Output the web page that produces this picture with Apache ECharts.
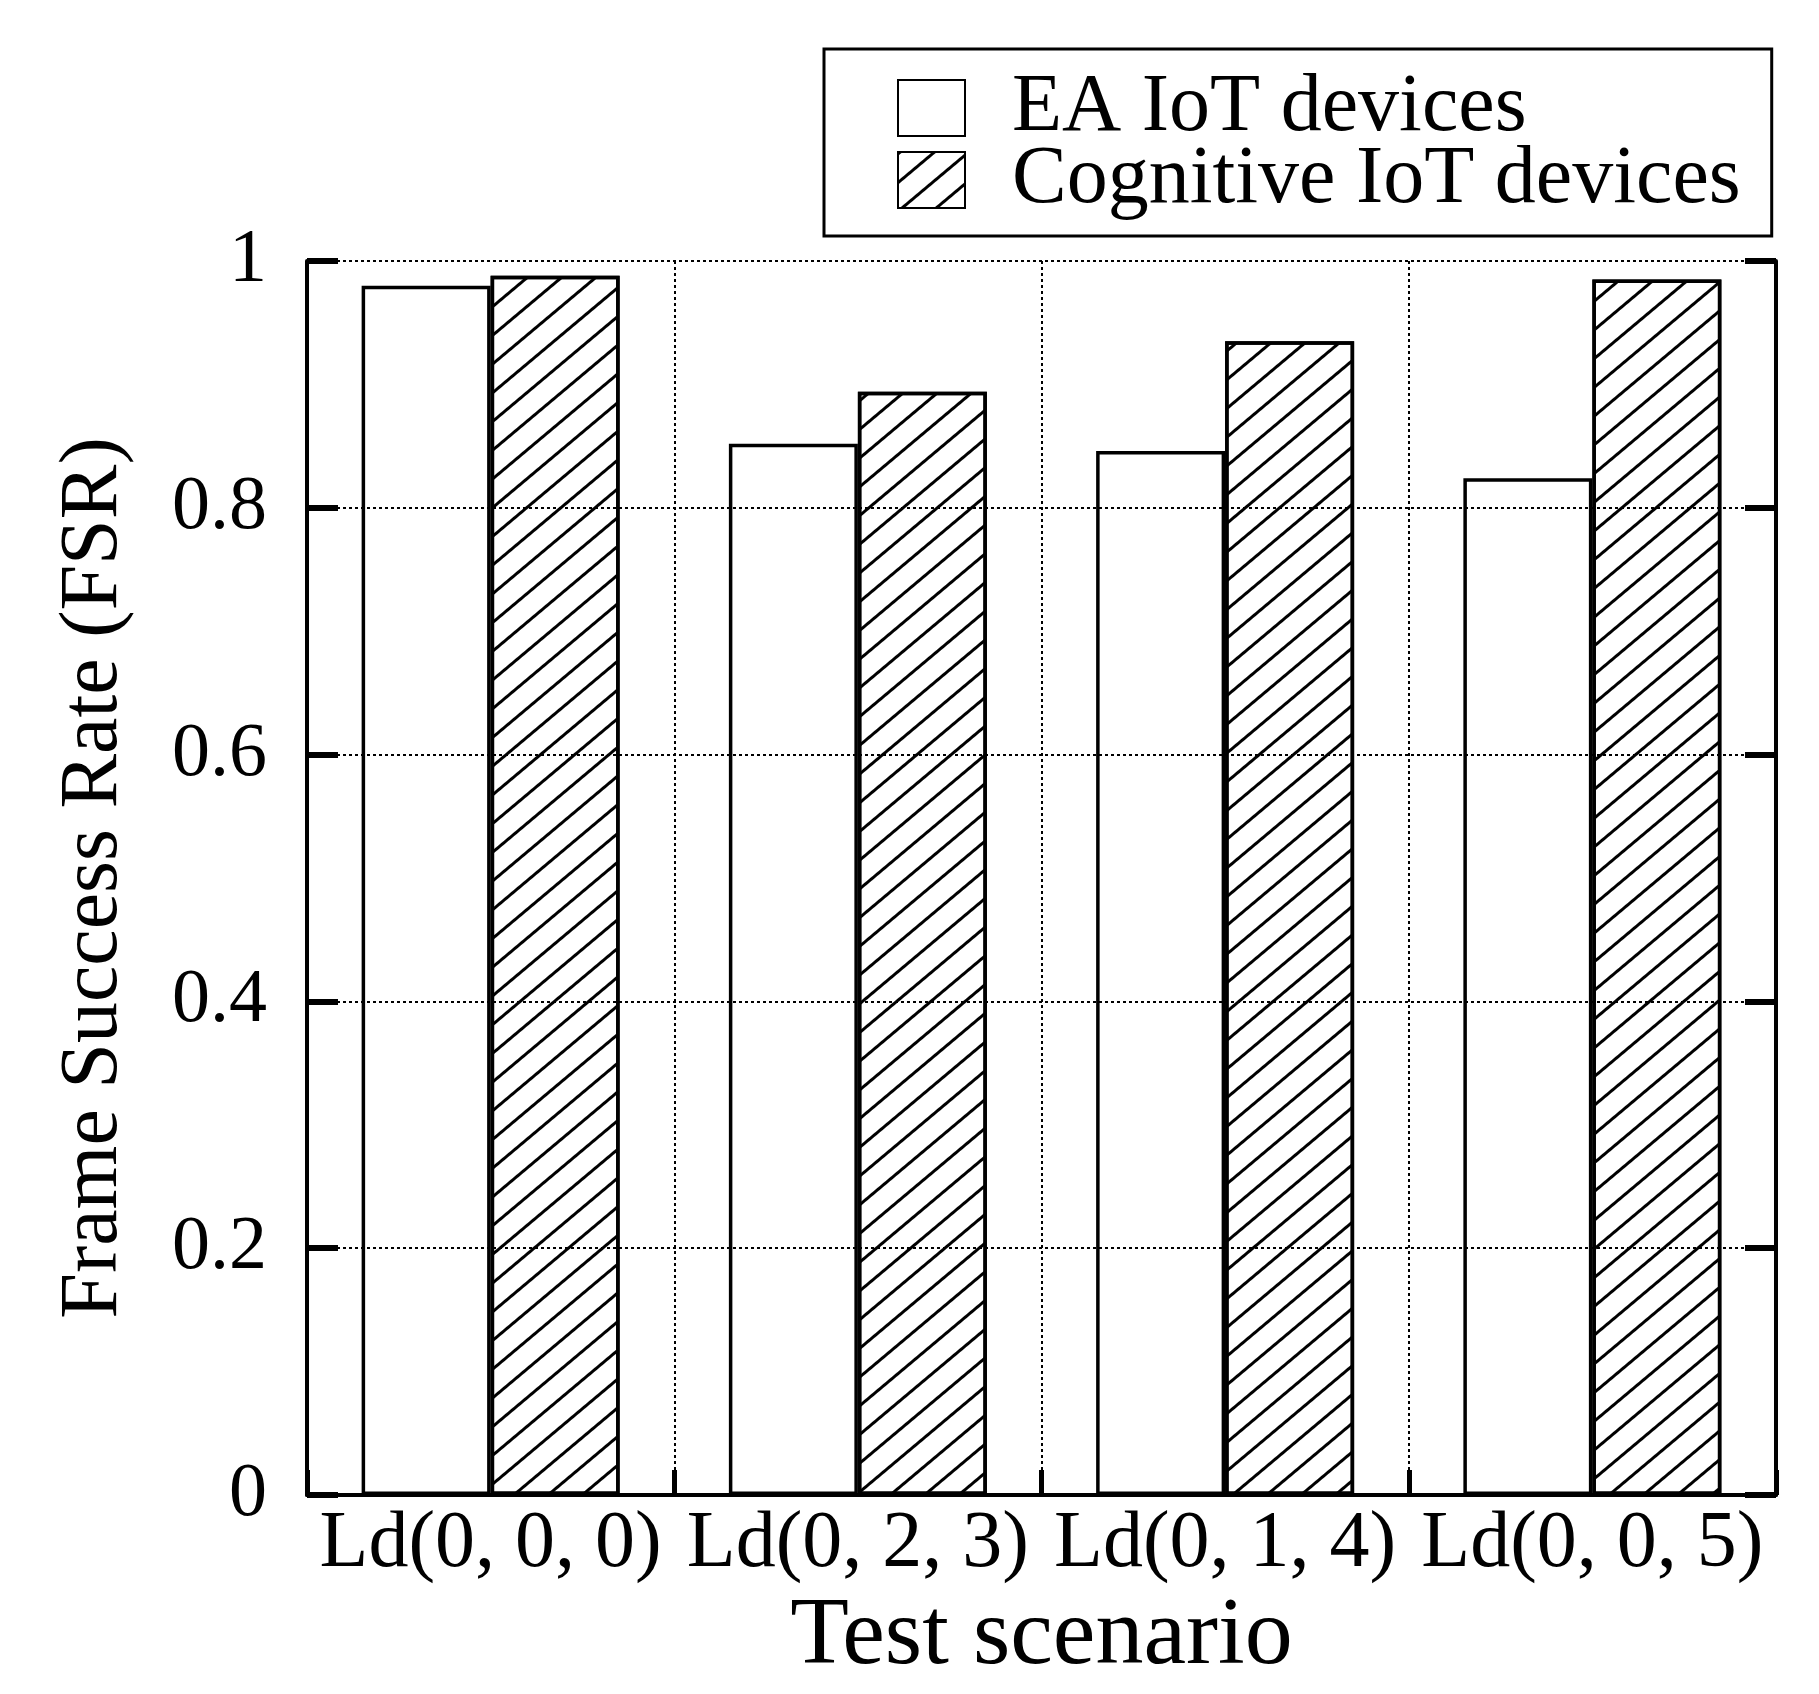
<!DOCTYPE html>
<html>
<head>
<meta charset="utf-8">
<script src="https://cdn.jsdelivr.net/npm/echarts@6/dist/echarts.min.js"></script>
<style>
html,body{margin:0;padding:0;background:#fff;}
#chart{width:1819px;height:1694px;}
</style>
</head>
<body>
<div id="chart"></div>
<script>
var categories = ['Ld(0, 0, 0)', 'Ld(0, 2, 3)', 'Ld(0, 1, 4)', 'Ld(0, 0, 5)'];
var eaValues = [0.980, 0.852, 0.846, 0.824];
var cognitiveValues = [0.988, 0.894, 0.935, 0.985];
var seriesNames = ['EA IoT devices', 'Cognitive IoT devices'];
var yTicks = { min: 0, max: 1, interval: 0.2 };
var axisTitles = { x: 'Test scenario', y: 'Frame Success Rate (FSR)' };

var FONT = "'Liberation Serif', 'Times New Roman', serif";
var chart = echarts.init(document.getElementById('chart'), null, { renderer: 'canvas' });

var hatch = {
  symbol: 'rect',
  color: '#000',
  dashArrayX: [1, 0],
  dashArrayY: [2.5, 18.5],
  rotation: -40 * Math.PI / 180
};

var option = {
  backgroundColor: '#fff',
  animation: false,
  grid: { left: 307, right: 43, top: 261, bottom: 199, containLabel: false },
  legend: {
    orient: 'vertical',
    left: 824,
    top: 49,
    padding: [18, 31, 15, 73],
    borderColor: '#000',
    borderWidth: 3,
    itemWidth: 67,
    itemHeight: 56,
    itemGap: -10,
    icon: 'rect',
    textStyle: {
      fontFamily: FONT,
      fontSize: 82,
      color: '#000',
      padding: [0, 0, 0, 42]
    },
    data: seriesNames
  },
  xAxis: {
    type: 'category',
    data: categories,
    boundaryGap: true,
    name: axisTitles.x,
    nameLocation: 'middle',
    nameGap: 75,
    nameTextStyle: { fontFamily: FONT, fontSize: 96, color: '#000' },
    axisLine: { show: true, onZero: false, lineStyle: { color: '#000', width: 4 } },
    axisTick: { show: true, inside: true, length: 25, lineStyle: { color: '#000', width: 5 } },
    axisLabel: { interval: 0, margin: 10, fontFamily: FONT, fontSize: 80, color: '#000' },
    splitLine: { show: true, interval: 0, lineStyle: { color: '#000', width: 2, type: [3, 3] } },
    z: 10
  },
  yAxis: [
    {
      type: 'value',
      position: 'left',
      min: yTicks.min,
      max: yTicks.max,
      interval: yTicks.interval,
      name: axisTitles.y,
      nameLocation: 'middle',
      nameGap: 172,
      nameTextStyle: { fontFamily: FONT, fontSize: 82, color: '#000' },
      axisLine: { show: true, lineStyle: { color: '#000', width: 4 } },
      axisTick: { show: true, inside: true, length: 31, lineStyle: { color: '#000', width: 6 } },
      axisLabel: { margin: 40, fontFamily: FONT, fontSize: 76, color: '#000' },
      splitLine: { show: true, lineStyle: { color: '#000', width: 2, type: [3, 3] } },
      z: 10
    },
    {
      type: 'value',
      position: 'right',
      min: yTicks.min,
      max: yTicks.max,
      interval: yTicks.interval,
      axisLine: { show: true, lineStyle: { color: '#000', width: 4 } },
      axisTick: { show: true, inside: true, length: 31, lineStyle: { color: '#000', width: 6 } },
      axisLabel: { show: false },
      splitLine: { show: false },
      z: 10
    }
  ],
  series: [
    {
      name: seriesNames[0],
      type: 'bar',
      data: eaValues,
      barWidth: 129,
      barGap: '0%',
      itemStyle: { color: '#fff', borderColor: '#000', borderWidth: 3.5 }
    },
    {
      name: seriesNames[1],
      type: 'bar',
      data: cognitiveValues,
      barWidth: 129,
      barGap: '0%',
      itemStyle: { color: '#fff', borderColor: '#000', borderWidth: 3.5, decal: hatch }
    }
  ]
};
chart.setOption(option);
</script>
</body>
</html>
